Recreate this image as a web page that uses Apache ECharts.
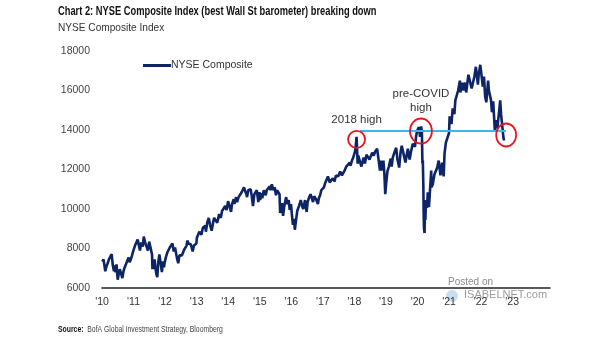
<!DOCTYPE html>
<html>
<head>
<meta charset="utf-8">
<script src="https://cdn.jsdelivr.net/npm/echarts@6/dist/echarts.min.js"></script>
<style>
html,body{margin:0;padding:0;background:#fff;}
#chart{width:605px;height:341px;}
</style>
</head>
<body>
<div id="chart"></div>
<script>
// ---- data (NYSE Composite) ----
const nyse2010 = [['01-04',7330],['01-19',7450],['02-08',6850],['02-22',7100],['03-08',7250],['03-22',7450],['04-05',7550],['04-23',7720],['05-06',7150],['05-20',6850],['05-27',7150],['06-07',6800],['06-18',7200],['07-02',6420],['07-15',6750],['07-26',6950],['08-09',6950],['08-25',6500],['09-07',6850],['09-21',7050],['10-05',7200],['10-19',7300],['11-05',7550],['11-16',7300],['12-01',7450],['12-15',7650],['12-31',7900]];
const nyse2011 = [['01-03',7950],['01-18',8150],['02-01',8200],['02-18',8450],['03-01',8200],['03-16',7900],['03-31',8300],['04-18',8100],['04-29',8600],['05-16',8300],['05-31',8350],['06-16',7900],['07-01',8350],['07-07',8450],['07-21',8300],['08-03',7700],['08-08',6950],['08-15',7450],['08-22',6950],['09-01',7450],['09-12',7000],['09-22',6700],['10-03',6550],['10-14',7300],['10-27',7700],['11-08',7350],['11-25',6800],['12-07',7350],['12-19',7050],['12-30',7350]];
const nyse2012 = [['01-13',7600],['01-27',7800],['02-10',7900],['02-24',8050],['03-09',8050],['03-26',8250],['04-10',7850],['04-25',8050],['05-04',8000],['05-18',7500],['06-01',7250],['06-15',7650],['06-29',7750],['07-13',7650],['07-27',7800],['08-10',7950],['08-24',7950],['09-06',8150],['09-14',8400],['09-28',8250],['10-12',8150],['10-26',8200],['11-15',7850],['11-30',8150],['12-14',8200],['12-28',8250]];
const nyse2013 = [['01-04',8550],['01-18',8700],['02-01',8850],['02-19',8950],['02-25',8700],['03-14',9050],['03-28',9100],['04-11',9150],['04-18',8850],['05-03',9300],['05-21',9550],['06-05',9200],['06-24',8900],['07-12',9350],['07-23',9550],['08-05',9600],['08-27',9300],['09-09',9550],['09-18',9750],['10-08',9550],['10-22',9900],['11-07',9950],['11-27',10150],['12-13',9950],['12-31',10400]];
const nyse2014 = [['01-15',10400],['02-03',9850],['02-14',10250],['03-06',10500],['03-14',10250],['04-02',10600],['04-14',10350],['05-01',10600],['05-20',10650],['06-06',10850],['06-24',10950],['07-03',11100],['07-17',10900],['07-31',10750],['08-07',10600],['08-21',10950],['09-03',11050],['09-18',11000],['10-01',10650],['10-15',10150],['10-31',10750],['11-14',10850],['11-28',10950],['12-16',10350],['12-29',10850]];
const nyse2015 = [['01-06',10450],['01-22',10800],['01-30',10550],['02-17',10950],['03-02',11050],['03-11',10700],['03-23',10950],['04-14',11050],['04-27',11150],['05-06',10950],['05-21',11250],['06-08',10950],['06-23',11100],['07-08',10700],['07-20',10950],['08-05',10850],['08-18',10750],['08-25',9800],['09-04',10000],['09-16',10300],['09-28',9650],['10-14',10200],['11-03',10600],['11-13',10250],['12-02',10450],['12-14',9950],['12-29',10250]];
const nyse2016 = [['01-07',9750],['01-20',9200],['02-01',9500],['02-11',8950],['02-24',9400],['03-10',9900],['03-29',10150],['04-20',10450],['05-05',10150],['05-19',10000],['06-08',10450],['06-27',9850],['07-08',10350],['07-22',10550],['08-11',10750],['08-26',10650],['09-09',10350],['09-22',10650],['10-13',10500],['11-04',10250],['11-15',10550],['11-30',10700],['12-13',10950],['12-28',10950]];
const nyse2017 = [['01-13',11100],['01-27',11300],['02-14',11400],['03-01',11650],['03-21',11350],['04-13',11250],['04-26',11550],['05-17',11400],['06-01',11700],['06-19',11800],['06-29',11650],['07-20',11900],['08-10',11700],['08-21',11650],['09-11',11950],['09-29',12150],['10-20',12250],['11-08',12350],['11-17',12200],['12-04',12450],['12-18',12600],['12-29',12600]];
const nyse2018 = [['01-08',12900],['01-17',13200],['01-26',13650],['02-08',12300],['02-15',12700],['02-26',12800],['03-09',12800],['03-23',12150],['04-02',12050],['04-18',12600],['05-03',12300],['05-21',12750],['06-06',12850],['06-25',12500],['07-12',12700],['07-26',12850],['08-13',12700],['08-28',12900],['09-12',12850],['09-21',13050],['10-03',13000],['10-11',12400],['10-24',11950],['11-07',12450],['11-23',11950],['12-03',12450],['12-14',11800],['12-24',10750]];
const nyse2019 = [['01-07',11450],['01-18',11900],['02-04',12150],['02-25',12550],['03-08',12150],['03-21',12600],['04-12',12900],['04-30',13100],['05-13',12550],['06-03',12100],['06-20',12900],['07-03',13200],['07-26',13150],['08-05',12550],['08-15',12350],['08-30',12750],['09-12',13050],['10-02',12500],['10-18',12900],['11-07',13300],['11-27',13400],['12-03',13150],['12-17',13700],['12-27',13950]];
const nyse2020 = [['01-10',13950],['01-17',14150],['01-31',13650],['02-12',14180],['02-21',13950],['02-27',12300],['03-03',12450],['03-09',11100],['03-12',9850],['03-16',9050],['03-23',8780],['03-26',10000],['04-01',9450],['04-09',10450],['04-21',10050],['04-29',10850],['05-13',10100],['06-08',11950],['06-11',11100],['06-26',11250],['07-15',11750],['07-31',11650],['08-17',12100],['09-02',12450],['09-23',11700],['10-12',12350],['10-30',11650],['11-09',12800],['11-24',13350],['12-08',13450],['12-31',13850]];
const nyse2021 = [['01-08',14700],['01-29',14300],['02-12',15100],['03-04',14800],['03-15',15500],['04-01',15500],['04-16',16000],['05-07',16500],['05-12',15900],['06-04',16400],['06-18',16000],['07-07',16400],['07-19',15900],['08-13',16800],['08-31',16700],['09-03',16750],['09-20',16100],['10-04',16000],['10-21',16700],['11-08',17200],['11-26',16500],['12-01',16300],['12-10',16800],['12-29',17300]];
const nyse2022 = [['01-04',17400],['01-12',17200],['01-27',16200],['02-09',16700],['02-23',15700],['03-08',15400],['03-29',16500],['04-07',16000],['04-21',16100],['05-02',15500],['05-12',14900],['05-27',15450],['06-08',15500],['06-16',13900],['06-28',14500],['07-14',14100],['08-05',15000],['08-16',15500],['08-26',14800],['09-12',14850],['09-23',13600],['09-30',13470]];

const yearTicks = [2010,2011,2012,2013,2014,2015,2016,2017,2018,2019,2020,2021,2022,2023];
const highLevel = 13950;                       // horizontal reference level
const highLineSpan = [2018.18, 2022.80];       // from 2018 high to latest
const circles = [                               // [year, value, label]
  [2018.07, 13530, '2018 high'],
  [2020.11, 13950, 'pre-COVID\nhigh'],
  [2022.81, 13750, '']
];

// ---- build ----
function toYear(y, md){
  const p = md.split('-').map(Number);
  return y + (Date.UTC(y, p[0]-1, p[1]) - Date.UTC(y,0,1)) / (365.25*864e5);
}
const byYear = {2010:nyse2010,2011:nyse2011,2012:nyse2012,2013:nyse2013,2014:nyse2014,2015:nyse2015,2016:nyse2016,2017:nyse2017,2018:nyse2018,2019:nyse2019,2020:nyse2020,2021:nyse2021,2022:nyse2022};
const seriesData = [];
Object.keys(byYear).forEach(y => byYear[y].forEach(d => seriesData.push([toYear(+y, d[0]), d[1]])));

const NAVY = '#0d2466';
const chart = echarts.init(document.getElementById('chart'), null, {renderer:'canvas'});
chart.setOption({
  animation:false,
  backgroundColor:'#fff',
  textStyle:{fontFamily:'"Liberation Sans", Arial, sans-serif'},
  grid:{left:102, right:55, top:51, bottom:53},
  legend:{
    left:138, top:55, itemWidth:28, itemHeight:3, icon:'rect', itemGap:0,
    textStyle:{fontSize:10.5, color:'#333', padding:[0,0,0,-5]},
    data:['NYSE Composite']
  },
  xAxis:{
    type:'value', min:2010, max:2024.2, interval:1,
    axisLine:{lineStyle:{color:'#222', width:1.5}},
    axisTick:{show:false}, splitLine:{show:false},
    axisLabel:{fontSize:10.5, color:'#333', margin:9,
      formatter:v => yearTicks.indexOf(v) >= 0 ? "'" + String(v).slice(2) : ''}
  },
  yAxis:{
    type:'value', min:6000, max:18000, interval:2000,
    axisLine:{show:false}, axisTick:{show:false}, splitLine:{show:false},
    axisLabel:{fontSize:10.5, color:'#444', margin:12, formatter:v => String(v)}
  },
  series:[{
    name:'NYSE Composite', type:'line', data:seriesData, showSymbol:false,
    lineStyle:{color:NAVY, width:2.6}, itemStyle:{color:NAVY},
    markLine:{
      silent:true, symbol:['none','none'],
      lineStyle:{color:'#3db4ef', width:2, type:'solid'},
      label:{show:false},
      data:[[{coord:[highLineSpan[0], highLevel]},{coord:[highLineSpan[1], highLevel]}]]
    },
    markPoint:{
      silent:true, symbol:'circle',
      itemStyle:{color:'rgba(0,0,0,0)', borderColor:'#e8141b', borderWidth:1.8},
      label:{show:true, position:'top', distance:3, color:'#333', fontSize:11.5, lineHeight:14},
      data:[
        {coord:[circles[0][0], circles[0][1]], symbolSize:[17,17], label:{formatter:circles[0][2]}},
        {coord:[circles[1][0], circles[1][1]], symbolSize:[22,25], label:{formatter:circles[1][2], distance:3}},
        {coord:[circles[2][0], circles[2][1]], symbolSize:[20,23], label:{show:false}}
      ]
    }
  }],
  graphic:[
    {type:'text', x:58, y:4, scaleX:0.69, style:{text:'Chart 2: NYSE Composite Index (best Wall St barometer) breaking down',
      font:'bold 13.5px "Liberation Sans", Arial', fill:'#111', textVerticalAlign:'top'}},
    {type:'text', x:58, y:22, scaleX:0.88, style:{text:'NYSE Composite Index',
      font:'11.5px "Liberation Sans", Arial', fill:'#333', textVerticalAlign:'top'}},
    {type:'text', x:58, y:324, scaleX:0.72, style:{rich:{b:{fontWeight:'bold', fontSize:9.5, fill:'#111'}, n:{fontSize:9.5, fill:'#444'}}, text:'{b|Source:}{n|  BofA Global Investment Strategy, Bloomberg}', textVerticalAlign:'top'}},
    {type:'text', left:448, top:277, style:{text:'Posted on', font:'10px "Liberation Sans", Arial', fill:'#8a8a8a'}},
    {type:'circle', shape:{cx:452, cy:296, r:6}, style:{fill:'#b9d6ec', opacity:0.8}},
    {type:'text', left:464, top:289, style:{text:'ISABELNET.com', font:'11px "Liberation Sans", Arial', fill:'#9a9a9a'}}
  ]
});
</script>
</body>
</html>
